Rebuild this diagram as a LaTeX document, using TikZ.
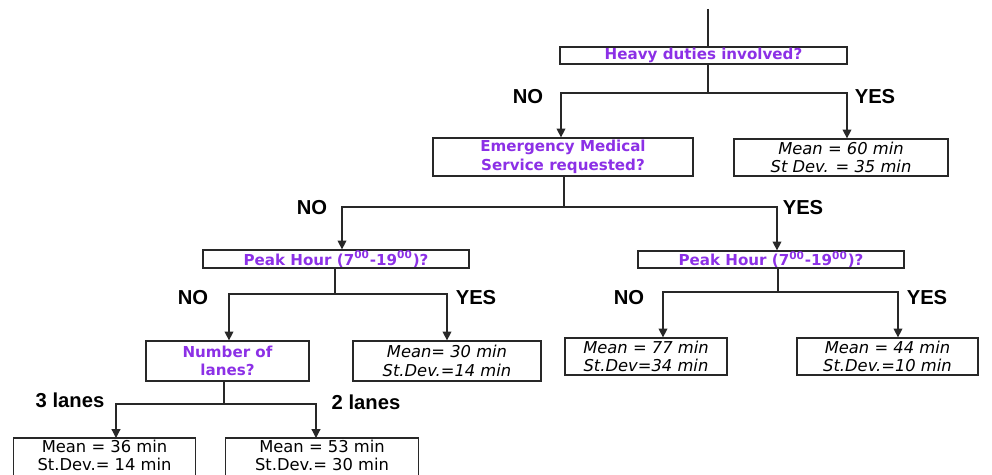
\documentclass[tikz,border=0pt]{standalone}
\usepackage{fontspec}
\setmainfont{DejaVu Sans}
\newfontfamily\lblfont{Liberation Sans}
\usetikzlibrary{arrows.meta}
\definecolor{qpurple}{RGB}{140,48,230}
\definecolor{lnc}{RGB}{40,40,40}
\tikzset{
  box/.style={draw=lnc, line width=0.7pt, inner sep=0pt, anchor=center, align=center},
  qbox/.style={box, text=qpurple, font=\fontsize{8.6}{10.5}\selectfont\bfseries},
  mbox/.style={box, font=\fontsize{9.3}{10.5}\selectfont\itshape},
  ubox/.style={box, draw=none, font=\fontsize{9.3}{10}\selectfont},
  lbl/.style={font=\lblfont\fontsize{11.5}{12}\selectfont\bfseries, inner sep=0pt},
  conn/.style={draw=lnc, line width=0.7pt},
  arr/.style={conn, -{Triangle[length=5pt,width=5pt]}}
}
\begin{document}
\begin{tikzpicture}[x=0.02cm,y=-0.02cm]
\useasboundingbox (0,0) rectangle (992,475);
\clip (0,0) rectangle (992,475);
% boxes
\node[qbox, minimum width=287*0.02cm, minimum height=17*0.02cm] (heavy) at (703.5,55.5) {Heavy duties involved?};
\node[qbox, minimum width=260*0.02cm, minimum height=38*0.02cm] (ems) at (563,157) {Emergency Medical\\Service requested?};
\node[mbox, minimum width=214*0.02cm, minimum height=37*0.02cm] (m60) at (841,157.5) {Mean = 60 min\\St Dev. = 35 min};
\node[qbox, minimum width=266*0.02cm, minimum height=18*0.02cm] (peakL) at (336,259) {Peak Hour (7\textsuperscript{00}-19\textsuperscript{00})?};
\node[qbox, minimum width=266*0.02cm, minimum height=17*0.02cm] (peakR) at (771,259.5) {Peak Hour (7\textsuperscript{00}-19\textsuperscript{00})?};
\node[qbox, minimum width=163*0.02cm, minimum height=40*0.02cm] (num) at (227.5,361) {Number of\\lanes?};
\node[mbox, minimum width=188*0.02cm, minimum height=40*0.02cm] (m30) at (447,361) {Mean= 30 min\\St.Dev.=14 min};
\node[mbox, minimum width=162*0.02cm, minimum height=37*0.02cm] (m77) at (646,356.5) {Mean = 77 min\\St.Dev=34 min};
\node[mbox, minimum width=181*0.02cm, minimum height=37*0.02cm] (m44) at (887.5,356.5) {Mean = 44 min\\St.Dev.=10 min};
\node[ubox, minimum width=181*0.02cm, minimum height=34*0.02cm, anchor=north] (m36) at (104.5,438) {Mean = 36 min\\St.Dev.= 14 min};
\node[ubox, minimum width=192*0.02cm, minimum height=34*0.02cm, anchor=north] (m53) at (322,438) {Mean = 53 min\\St.Dev.= 30 min};
% bottom boxes run off the lower edge
\draw[conn] ([yshift=-20*0.02cm]m36.south west) -- (m36.north west) -- (m36.north east) -- ([yshift=-20*0.02cm]m36.south east);
\draw[conn] ([yshift=-20*0.02cm]m53.south west) -- (m53.north west) -- (m53.north east) -- ([yshift=-20*0.02cm]m53.south east);
% connectors
\coordinate (top) at (708,9);
\draw[conn] (top) -- (top|-heavy.north);
\coordinate (j1) at (708,93);
\draw[conn] (top|-heavy.south) -- (j1);
\draw[arr] (j1) -| ([xshift=-2*0.02cm]ems.north);
\draw[arr] (j1) -| ([xshift=6*0.02cm]m60.north);
\coordinate (j2) at (564,207);
\draw[conn] (j2|-ems.south) -- (j2);
\draw[arr] (j2) -| ([xshift=6*0.02cm]peakL.north);
\draw[arr] (j2) -| ([xshift=6*0.02cm]peakR.north);
\coordinate (j3) at (335,294);
\draw[conn] (j3|-peakL.south) -- (j3);
\draw[arr] (j3) -| ([xshift=1.5*0.02cm]num.north);
\draw[arr] (j3) -| (m30.north);
\coordinate (j4) at (778,292);
\draw[conn] (j4|-peakR.south) -- (j4);
\draw[arr] (j4) -| ([xshift=17*0.02cm]m77.north);
\draw[arr] (j4) -| ([xshift=10.5*0.02cm]m44.north);
\coordinate (j5) at (224,404);
\draw[conn] (j5|-num.south) -- (j5);
\draw[arr] (j5) -| ([xshift=11.5*0.02cm]m36.north);
\draw[arr] (j5) -| ([xshift=-6*0.02cm]m53.north);
% labels
\node[lbl] (no1) at (528,97) {NO};
\node[lbl] (yes1) at (875,97) {YES};
\node[lbl] (no2) at (312,208) {NO};
\node[lbl] (yes2) at (803,208) {YES};
\node[lbl] (no3) at (193,298) {NO};
\node[lbl] (yes3) at (476,298) {YES};
\node[lbl] (no4) at (629,298) {NO};
\node[lbl] (yes4) at (927,298) {YES};
\node[lbl] (l3) at (70,400) {3 lanes};
\node[lbl] (l2) at (366,402) {2 lanes};
\end{tikzpicture}
\end{document}
